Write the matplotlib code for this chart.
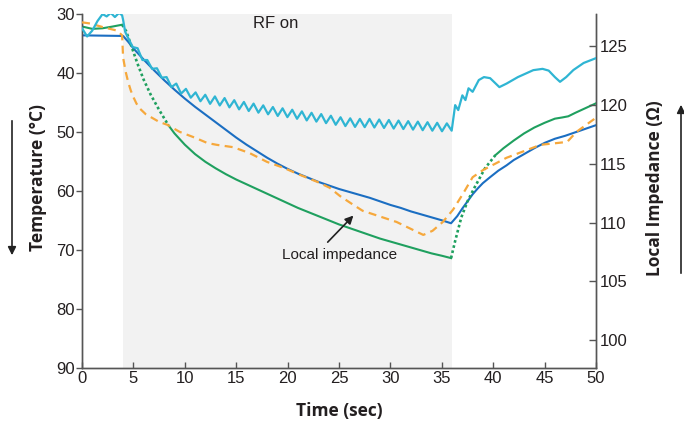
import matplotlib
matplotlib.use("Agg")
import matplotlib.pyplot as plt
from matplotlib.patches import FancyArrowPatch
import numpy as np

# ---------------- data ----------------
blue_time = [0, 4.0, 4.5, 5.0, 6.0, 7.0, 8.0, 9.0, 10.0, 11.0, 12.0, 13.0, 14.0, 15.0, 16.0, 17.0,
             18.0, 19.0, 20.0, 21.0, 22.0, 23.0, 24.0, 25.0, 26.0, 27.0, 28.0, 29.0, 30.0, 31.0,
             32.0, 33.0, 34.0, 35.0, 35.9,
             36.5, 37.0, 37.5, 38.0, 38.5, 39.0, 39.7, 40.5, 41.3, 42.0, 43.0, 44.0, 45.0, 46.0,
             47.0, 48.0, 49.0, 50.0]
blue_temp = [33.7, 33.8, 34.8, 35.9, 37.8, 39.6, 41.3, 42.9, 44.4, 45.8, 47.1, 48.4, 49.7, 51.0, 52.2, 53.3,
             54.4, 55.4, 56.3, 57.1, 57.8, 58.5, 59.1, 59.7, 60.2, 60.7, 61.2, 61.8, 62.4, 62.9,
             63.5, 64.0, 64.5, 65.0, 65.5,
             64.3, 63.0, 61.8, 60.6, 59.6, 58.7, 57.7, 56.6, 55.7, 54.8, 53.8, 52.8, 51.9, 51.2,
             50.7, 50.1, 49.5, 48.9]

green_time = [0, 1.0, 2.0, 3.0, 3.9,
              4.3, 4.8, 5.4, 6.0, 6.7, 7.5, 8.4,
              9.0, 10.0, 11.0, 12.0, 13.0, 14.0, 15.0, 16.0, 17.0, 18.0, 19.0, 20.0, 21.0, 22.0,
              23.0, 24.0, 25.0, 26.0, 27.0, 28.0, 29.0, 30.0, 31.0, 32.0, 33.0, 34.0, 35.0, 35.9,
              36.3, 36.9, 37.5, 38.2, 39.2, 40.2,
              41.0, 42.0, 43.0, 44.0, 45.0, 46.0, 46.7, 47.3, 48.0, 49.0, 50.0]
green_temp = [32.2, 32.6, 32.5, 32.2, 31.9,
              33.0, 35.5, 38.5, 41.2, 43.8, 46.3, 48.9,
              50.3, 52.2, 53.8, 55.1, 56.2, 57.2, 58.1, 58.9, 59.7, 60.5, 61.3, 62.1, 62.9, 63.6,
              64.3, 65.0, 65.7, 66.3, 66.9, 67.5, 68.1, 68.6, 69.1, 69.6, 70.1, 70.6, 71.0, 71.4,
              68.5, 64.5, 61.8, 59.4, 56.2, 54.0,
              52.8, 51.5, 50.3, 49.3, 48.5, 47.8, 47.6, 47.4, 46.8, 46.0, 45.2]
green_dotted_spans = [(3.9, 8.4), (35.9, 40.2)]

orange_time = [0, 0.8, 2.0, 3.4, 3.9, 4.0, 4.25, 4.5, 4.75, 5.0, 5.3, 5.6, 6.2, 6.8, 7.5, 8.3, 9.5,
               11.0, 12.2, 13.1, 14.7, 16.3, 18.0, 19.6, 21.2, 22.9, 24.1, 25.1, 26.4, 27.3, 30.6,
               33.2, 34.1, 35.1, 36.1, 37.1, 38.0, 39.0, 41.3, 44.6, 46.2, 47.2, 48.1, 50.0]
orange_imp = [127.0, 126.9, 126.6, 126.3, 125.9, 124.0, 122.8, 121.9, 121.2, 120.65, 120.1, 119.7, 119.2,
              118.9, 118.55, 118.3, 117.7, 117.2, 116.75, 116.6, 116.4, 115.9, 115.15, 114.65, 114.05,
              113.45, 112.95, 112.25, 111.5, 111.0, 110.05, 108.95, 109.3, 110.05, 111.1, 112.5,
              113.85, 114.45, 115.5, 116.6, 116.75, 116.85, 117.7, 118.9]

cyan_time = [0, 0.5, 1.0, 1.5, 2.0, 2.4, 2.8, 3.2, 3.6, 3.9, 4.0, 4.2, 4.47,
             4.94, 5.41, 5.88, 6.35, 6.82, 7.29, 7.76, 8.23, 8.70, 9.17, 9.64, 10.11,
             10.58, 11.05, 11.52, 11.99, 12.46, 12.93, 13.40, 13.87, 14.34, 14.81,
             15.28, 15.75, 16.22, 16.69, 17.16, 17.63, 18.10, 18.57, 19.04, 19.51,
             19.98, 20.45, 20.92, 21.39, 21.86, 22.33, 22.80, 23.27, 23.74, 24.21,
             24.68, 25.15, 25.62, 26.09, 26.56, 27.03, 27.50, 27.97, 28.44, 28.91,
             29.38, 29.85, 30.32, 30.79, 31.26, 31.73, 32.20, 32.67, 33.14, 33.61,
             34.08, 34.55, 35.02, 35.49, 35.96,
             36.3, 36.6, 37.0, 37.3, 37.6, 38.0, 38.6, 39.1, 39.7, 40.6, 41.3, 42.4,
             43.9, 44.8, 45.4, 46.0, 46.5, 47.1, 47.8, 48.8, 50.0]
cyan_imp = [126.5, 125.8, 126.3, 127.1, 127.7, 127.5, 127.8, 127.45, 127.8, 127.6, 127.2, 126.2, 125.7,
            124.9, 124.8, 123.8, 123.8, 123.05, 123.1, 122.3, 122.35, 121.5, 121.8, 120.95, 121.35,
            120.6, 121.05, 120.3, 120.85, 120.08, 120.71, 119.94, 120.57, 119.78, 120.39,
            119.61, 120.24, 119.47, 120.1, 119.33, 119.95, 119.19, 119.81, 119.05, 119.7,
            118.95, 119.58, 118.81, 119.44, 118.67, 119.32, 118.57, 119.21, 118.44, 119.07,
            118.3, 118.94, 118.19, 118.85, 118.12, 118.8, 118.1, 118.8, 118.07, 118.75,
            118.03, 118.71, 117.98, 118.66, 117.94, 118.61, 117.89, 118.57, 117.84, 118.52,
            117.8, 118.47, 117.75, 118.42, 117.8,
            119.97, 119.55, 120.8, 120.4, 121.4, 121.1, 122.1, 122.35, 122.26, 121.5, 121.8, 122.35,
            122.94, 123.05, 122.9, 122.35, 121.95, 122.35, 122.95, 123.55, 123.96]

rf_on = (4.0, 36.0)
x_ticks = [0, 5, 10, 15, 20, 25, 30, 35, 40, 45, 50]
temp_ticks = [30, 40, 50, 60, 70, 80, 90]
imp_ticks = [100, 105, 110, 115, 120, 125]

# ---------------- styles ----------------
BLUE = "#1b6ec2"
GREEN = "#1fa05f"
ORANGE = "#f6a83c"
CYAN = "#2fb5d3"
SPINE = "#555555"
TXT = "#231f20"
tick_font = ["Liberation Sans", "DejaVu Sans"]
label_font = ["Open Sans", "DejaVu Sans"]

fig = plt.figure(figsize=(6.84, 4.29), dpi=100)
ax = fig.add_axes([82 / 684, 1 - 368 / 429, (596 - 82) / 684, (368 - 13.5) / 429])
ax2 = ax.twinx()

ax.axvspan(rf_on[0], rf_on[1], color="#f2f2f2", zorder=0, lw=0)

# temperature curves
ax.plot(blue_time, blue_temp, color=BLUE, lw=1.5, zorder=3)
gt = np.array(green_time)
gT = np.array(green_temp)
edges = [gt[0]] + [v for span in green_dotted_spans for v in span] + [gt[-1]]
for i in range(len(edges) - 1):
    lo, hi = edges[i], edges[i + 1]
    m = (gt >= lo) & (gt <= hi)
    if (lo, hi) in green_dotted_spans:
        ax.plot(gt[m], gT[m], color=GREEN, lw=1.9, linestyle=(0, (1.0, 1.0)), zorder=3)
    else:
        ax.plot(gt[m], gT[m], color=GREEN, lw=1.5, zorder=3)

# impedance curves
ax2.plot(orange_time, orange_imp, color=ORANGE, lw=1.6, linestyle=(0, (3.6, 2.4)), zorder=3)
ax2.plot(cyan_time, cyan_imp, color=CYAN, lw=1.6, zorder=4)

ax.set_xlim(0, 50)
ax.set_ylim(90, 30)
ax2.set_ylim(97.65, 127.75)

ax.set_xticks(x_ticks)
ax.set_yticks(temp_ticks)
ax2.set_yticks(imp_ticks)

for a in (ax, ax2):
    a.spines["top"].set_visible(False)
    for s in a.spines.values():
        s.set_color(SPINE)
        s.set_linewidth(1.0)

ax.tick_params(axis="x", direction="in", length=4, width=1, color=SPINE, pad=2,
               labelsize=12, labelcolor=TXT)
ax.tick_params(axis="y", direction="out", length=4, width=1, color=SPINE, pad=1,
               labelsize=12, labelcolor=TXT)
ax2.tick_params(axis="y", direction="in", length=5, width=1, color=SPINE, pad=3,
                labelsize=12, labelcolor=TXT)
for lab in ax.get_xticklabels() + ax.get_yticklabels() + ax2.get_yticklabels():
    lab.set_family(tick_font)

ax.text(18.8, 31.7, "RF on", ha="center", va="center", fontsize=12, color=TXT, family=tick_font)

ax.annotate("", xy=(26.4, 64.2), xytext=(23.9, 68.7),
            arrowprops=dict(arrowstyle="-|>", color="#222222", lw=1.2, mutation_scale=12,
                            shrinkA=0, shrinkB=0))
ax.text(25.1, 70.9, "Local impedance", ha="center", va="center", fontsize=11,
        color=TXT, family=tick_font)

fig.text(339 / 684, 1 - 411 / 429, "Time (sec)", ha="center", va="center",
         fontsize=12.5, fontweight="bold", family=label_font, color=TXT)
fig.text(38 / 684, 1 - 178 / 429, "Temperature (°C)", ha="center", va="center",
         rotation=90, fontsize=12.5, fontweight="bold", family=label_font, color=TXT)
fig.text(655 / 684, 1 - 188 / 429, "Local Impedance (Ω)", ha="center", va="center",
         rotation=90, fontsize=12.5, fontweight="bold", family=label_font, color=TXT)

fig.add_artist(FancyArrowPatch((12 / 684, 1 - 118 / 429), (12 / 684, 1 - 258 / 429),
                               transform=fig.transFigure, arrowstyle="-|>", mutation_scale=12,
                               color="#222222", lw=1.2))
fig.add_artist(FancyArrowPatch((681 / 684, 1 - 276 / 429), (681 / 684, 1 - 102 / 429),
                               transform=fig.transFigure, arrowstyle="-|>", mutation_scale=12,
                               color="#222222", lw=1.2))

fig.savefig("out.png", dpi=100)
